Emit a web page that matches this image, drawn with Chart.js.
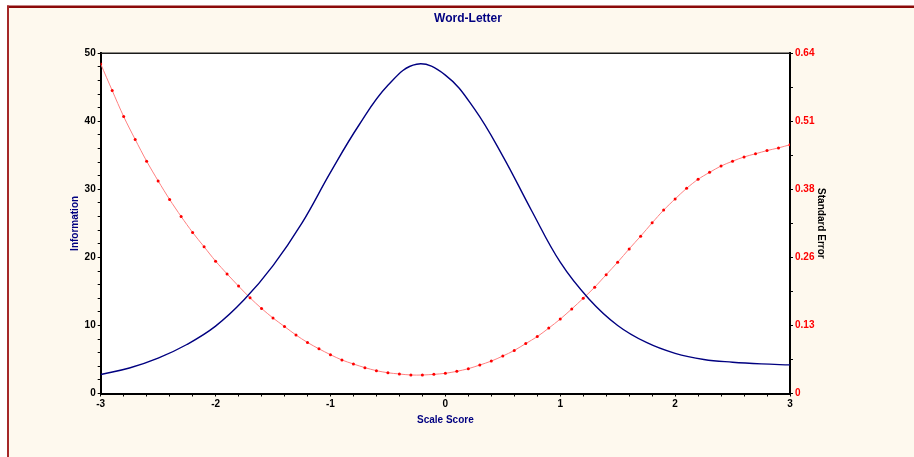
<!DOCTYPE html>
<html>
<head>
<meta charset="utf-8">
<script src="https://cdn.jsdelivr.net/npm/chart.js@4.4.1/dist/chart.umd.min.js"></script>
<style>
  html, body { margin: 0; padding: 0; background: #ffffff; }
  #c { display: block; }
</style>
</head>
<body>
<canvas id="c" width="914" height="457"></canvas>
<script>
// ---- Data ----
const chartTitle = 'Word-Letter';
const xAxisTitle = 'Scale Score';
const leftAxisTitle = 'Information';
const rightAxisTitle = 'Standard Error';

// Information curve (scale score, information)
const infoScores = [-3, -2.75, -2.5, -2.25, -2, -1.75, -1.5, -1.25, -1, -0.75, -0.5, -0.25,
                    0, 0.25, 0.5, 0.75, 1, 1.25, 1.5, 1.75, 2, 2.25, 2.5, 2.75, 3];
const infoValues = [2.8, 3.75, 5.2, 7.2, 9.9, 13.8, 18.8, 25.0, 32.5, 39.5, 45.3, 48.4,
                    46.8, 41.9, 34.9, 26.9, 19.3, 13.9, 10.0, 7.5, 5.9, 5.0, 4.6, 4.35, 4.2];

// Standard error curve (scale score, SE)
const seScores = [-3, -2.9, -2.8, -2.7, -2.6, -2.5, -2.4, -2.3, -2.2, -2.1,
                  -2, -1.9, -1.8, -1.7, -1.6, -1.5, -1.4, -1.3, -1.2, -1.1,
                  -1, -0.9, -0.8, -0.7, -0.6, -0.5, -0.4, -0.3, -0.2, -0.1,
                  0, 0.1, 0.2, 0.3, 0.4, 0.5, 0.6, 0.7, 0.8, 0.9,
                  1, 1.1, 1.2, 1.3, 1.4, 1.5, 1.6, 1.7, 1.8, 1.9,
                  2, 2.1, 2.2, 2.3, 2.4, 2.5, 2.6, 2.7, 2.8, 2.9, 3];
const seValues = [0.620, 0.570, 0.521, 0.478, 0.437, 0.400, 0.365, 0.333, 0.303, 0.276,
                  0.249, 0.225, 0.202, 0.180, 0.160, 0.142, 0.126, 0.110, 0.096, 0.084,
                  0.073, 0.063, 0.0555, 0.0486, 0.043, 0.039, 0.0367, 0.0348, 0.0348, 0.036,
                  0.038, 0.0417, 0.0467, 0.0536, 0.061, 0.0705, 0.081, 0.094, 0.107, 0.123,
                  0.140, 0.159, 0.179, 0.200, 0.2235, 0.247, 0.272, 0.296, 0.321, 0.345,
                  0.366, 0.386, 0.403, 0.416, 0.428, 0.437, 0.445, 0.451, 0.457, 0.462, 0.468];

// Tick positions (labels shown only on the major ones)
const xTicks = [-3, -2.8, -2.6, -2.4, -2.2, -2, -1.8, -1.6, -1.4, -1.2, -1, -0.8, -0.6, -0.4, -0.2,
                0, 0.2, 0.4, 0.6, 0.8, 1, 1.2, 1.4, 1.6, 1.8, 2, 2.2, 2.4, 2.6, 2.8, 3];
const xTickLabels = ['-3', '-2', '-1', '0', '1', '2', '3'];
const infoTicks = [0, 2, 4, 6, 8, 10, 12, 14, 16, 18, 20, 22, 24, 26, 28, 30, 32, 34, 36, 38, 40, 42, 44, 46, 48, 50];
const infoTickLabels = ['0', '10', '20', '30', '40', '50'];
const seTicks = [0, 0.064, 0.128, 0.192, 0.256, 0.32, 0.384, 0.448, 0.512, 0.576, 0.64];
const seTickLabels = ['0', '0.13', '0.26', '0.38', '0.51', '0.64'];

// ---- Chart ----
const FONT = "'Liberation Sans Narrow', 'Arial Narrow', 'Liberation Sans', Arial, sans-serif";

const frame = {
  id: 'frame',
  beforeDraw(chart) {
    const ctx = chart.ctx, a = chart.chartArea;
    ctx.save();
    ctx.fillStyle = '#ffffff';
    ctx.fillRect(0, 0, chart.width, chart.height);
    ctx.fillStyle = '#FEF9EE';
    ctx.fillRect(7, 6, chart.width - 7, chart.height - 6);
    ctx.fillStyle = '#8B0A0A';
    ctx.fillRect(7, 5.5, chart.width - 7, 2.5);
    ctx.fillStyle = '#A52828';
    ctx.fillRect(7, 5.5, 2, chart.height - 5.5);
    ctx.fillStyle = '#ffffff';
    ctx.fillRect(a.left, a.top, a.right - a.left, a.bottom - a.top);
    ctx.restore();
  },
  afterDraw(chart) {
    const ctx = chart.ctx, a = chart.chartArea;
    ctx.save();
    ctx.strokeStyle = '#1a1a1a';
    ctx.lineWidth = 1.5;
    ctx.beginPath();
    ctx.moveTo(a.left, a.top);
    ctx.lineTo(a.right, a.top);
    ctx.stroke();
    ctx.restore();
  }
};

new Chart(document.getElementById('c'), {
  type: 'line',
  data: {
    datasets: [
      {
        label: leftAxisTitle,
        data: infoScores.map((x, i) => ({ x: x, y: infoValues[i] })),
        yAxisID: 'yInfo',
        borderColor: '#000080',
        borderWidth: 1.4,
        pointRadius: 0,
        tension: 0.4,
        fill: false
      },
      {
        label: rightAxisTitle,
        data: seScores.map((x, i) => ({ x: x, y: seValues[i] })),
        yAxisID: 'ySE',
        borderColor: '#FF8080',
        borderWidth: 1,
        pointRadius: 1.5,
        pointStyle: 'circle',
        pointBackgroundColor: '#FF0000',
        pointBorderColor: '#FF0000',
        pointBorderWidth: 0,
        tension: 0.3,
        fill: false
      }
    ]
  },
  options: {
    responsive: false,
    animation: false,
    devicePixelRatio: 1,
    events: [],
    layout: { padding: { left: 22, right: 0, top: 0, bottom: 23.5 } },
    plugins: {
      legend: { display: false },
      tooltip: { enabled: false },
      title: {
        display: true,
        text: chartTitle,
        color: '#000080',
        font: { family: FONT, size: 12, weight: 'bold' },
        padding: { top: 11, bottom: 27.9 }
      }
    },
    scales: {
      x: {
        type: 'linear',
        min: -3, max: 3,
        afterFit(s) { s.height = 40; },
        afterBuildTicks(s) { s.ticks = xTicks.map(v => ({ value: v })); },
        grid: { drawOnChartArea: false, drawTicks: true, tickLength: 3, tickColor: '#000', tickWidth: 1 },
        border: { display: true, color: '#000', width: 2 },
        ticks: {
          autoSkip: false, maxRotation: 0, padding: 2, color: '#000',
          font: { family: FONT, size: 10, weight: 'bold' },
          callback(v) {
            const r = Math.round(v);
            if (Math.abs(v - r) < 1e-6) {
              const lbl = String(r);
              return xTickLabels.includes(lbl) ? lbl : '';
            }
            return '';
          }
        },
        title: {
          display: true, text: xAxisTitle, color: '#000080',
          font: { family: FONT, size: 10, weight: 'bold' },
          padding: { top: 0, bottom: 7.5 }
        }
      },
      yInfo: {
        type: 'linear', position: 'left',
        min: 0, max: 50,
        afterFit(s) { s.width = 78.7; },
        afterBuildTicks(s) { s.ticks = infoTicks.map(v => ({ value: v })); },
        grid: { drawOnChartArea: false, drawTicks: true, tickLength: 3, tickColor: '#000', tickWidth: 1 },
        border: { display: true, color: '#000', width: 2 },
        ticks: {
          autoSkip: false, padding: 2, color: '#000',
          font: { family: FONT, size: 10, weight: 'bold' },
          callback(v) {
            const lbl = String(Math.round(v));
            return (v % 10 === 0 && infoTickLabels.includes(lbl)) ? lbl : '';
          }
        },
        title: {
          display: true, text: leftAxisTitle, color: '#000080',
          font: { family: FONT, size: 10, weight: 'bold' },
          padding: { top: 47, bottom: 0 }
        }
      },
      ySE: {
        type: 'linear', position: 'right',
        min: 0, max: 0.64,
        afterFit(s) { s.width = 124; },
        afterBuildTicks(s) { s.ticks = seTicks.map(v => ({ value: v })); },
        grid: { drawOnChartArea: false, drawTicks: true, tickLength: 3, tickColor: '#000', tickWidth: 1 },
        border: { display: true, color: '#000', width: 2 },
        ticks: {
          autoSkip: false, padding: 2, color: '#FF0000',
          font: { family: FONT, size: 10, weight: 'bold' },
          callback(v, i) {
            return (i % 2 === 0) ? seTickLabels[i / 2] : '';
          }
        },
        title: {
          display: true, text: rightAxisTitle, color: '#000',
          font: { family: FONT, size: 10, weight: 'bold' },
          padding: { top: 87, bottom: 0 }
        }
      }
    }
  },
  plugins: [frame]
});
</script>
</body>
</html>
